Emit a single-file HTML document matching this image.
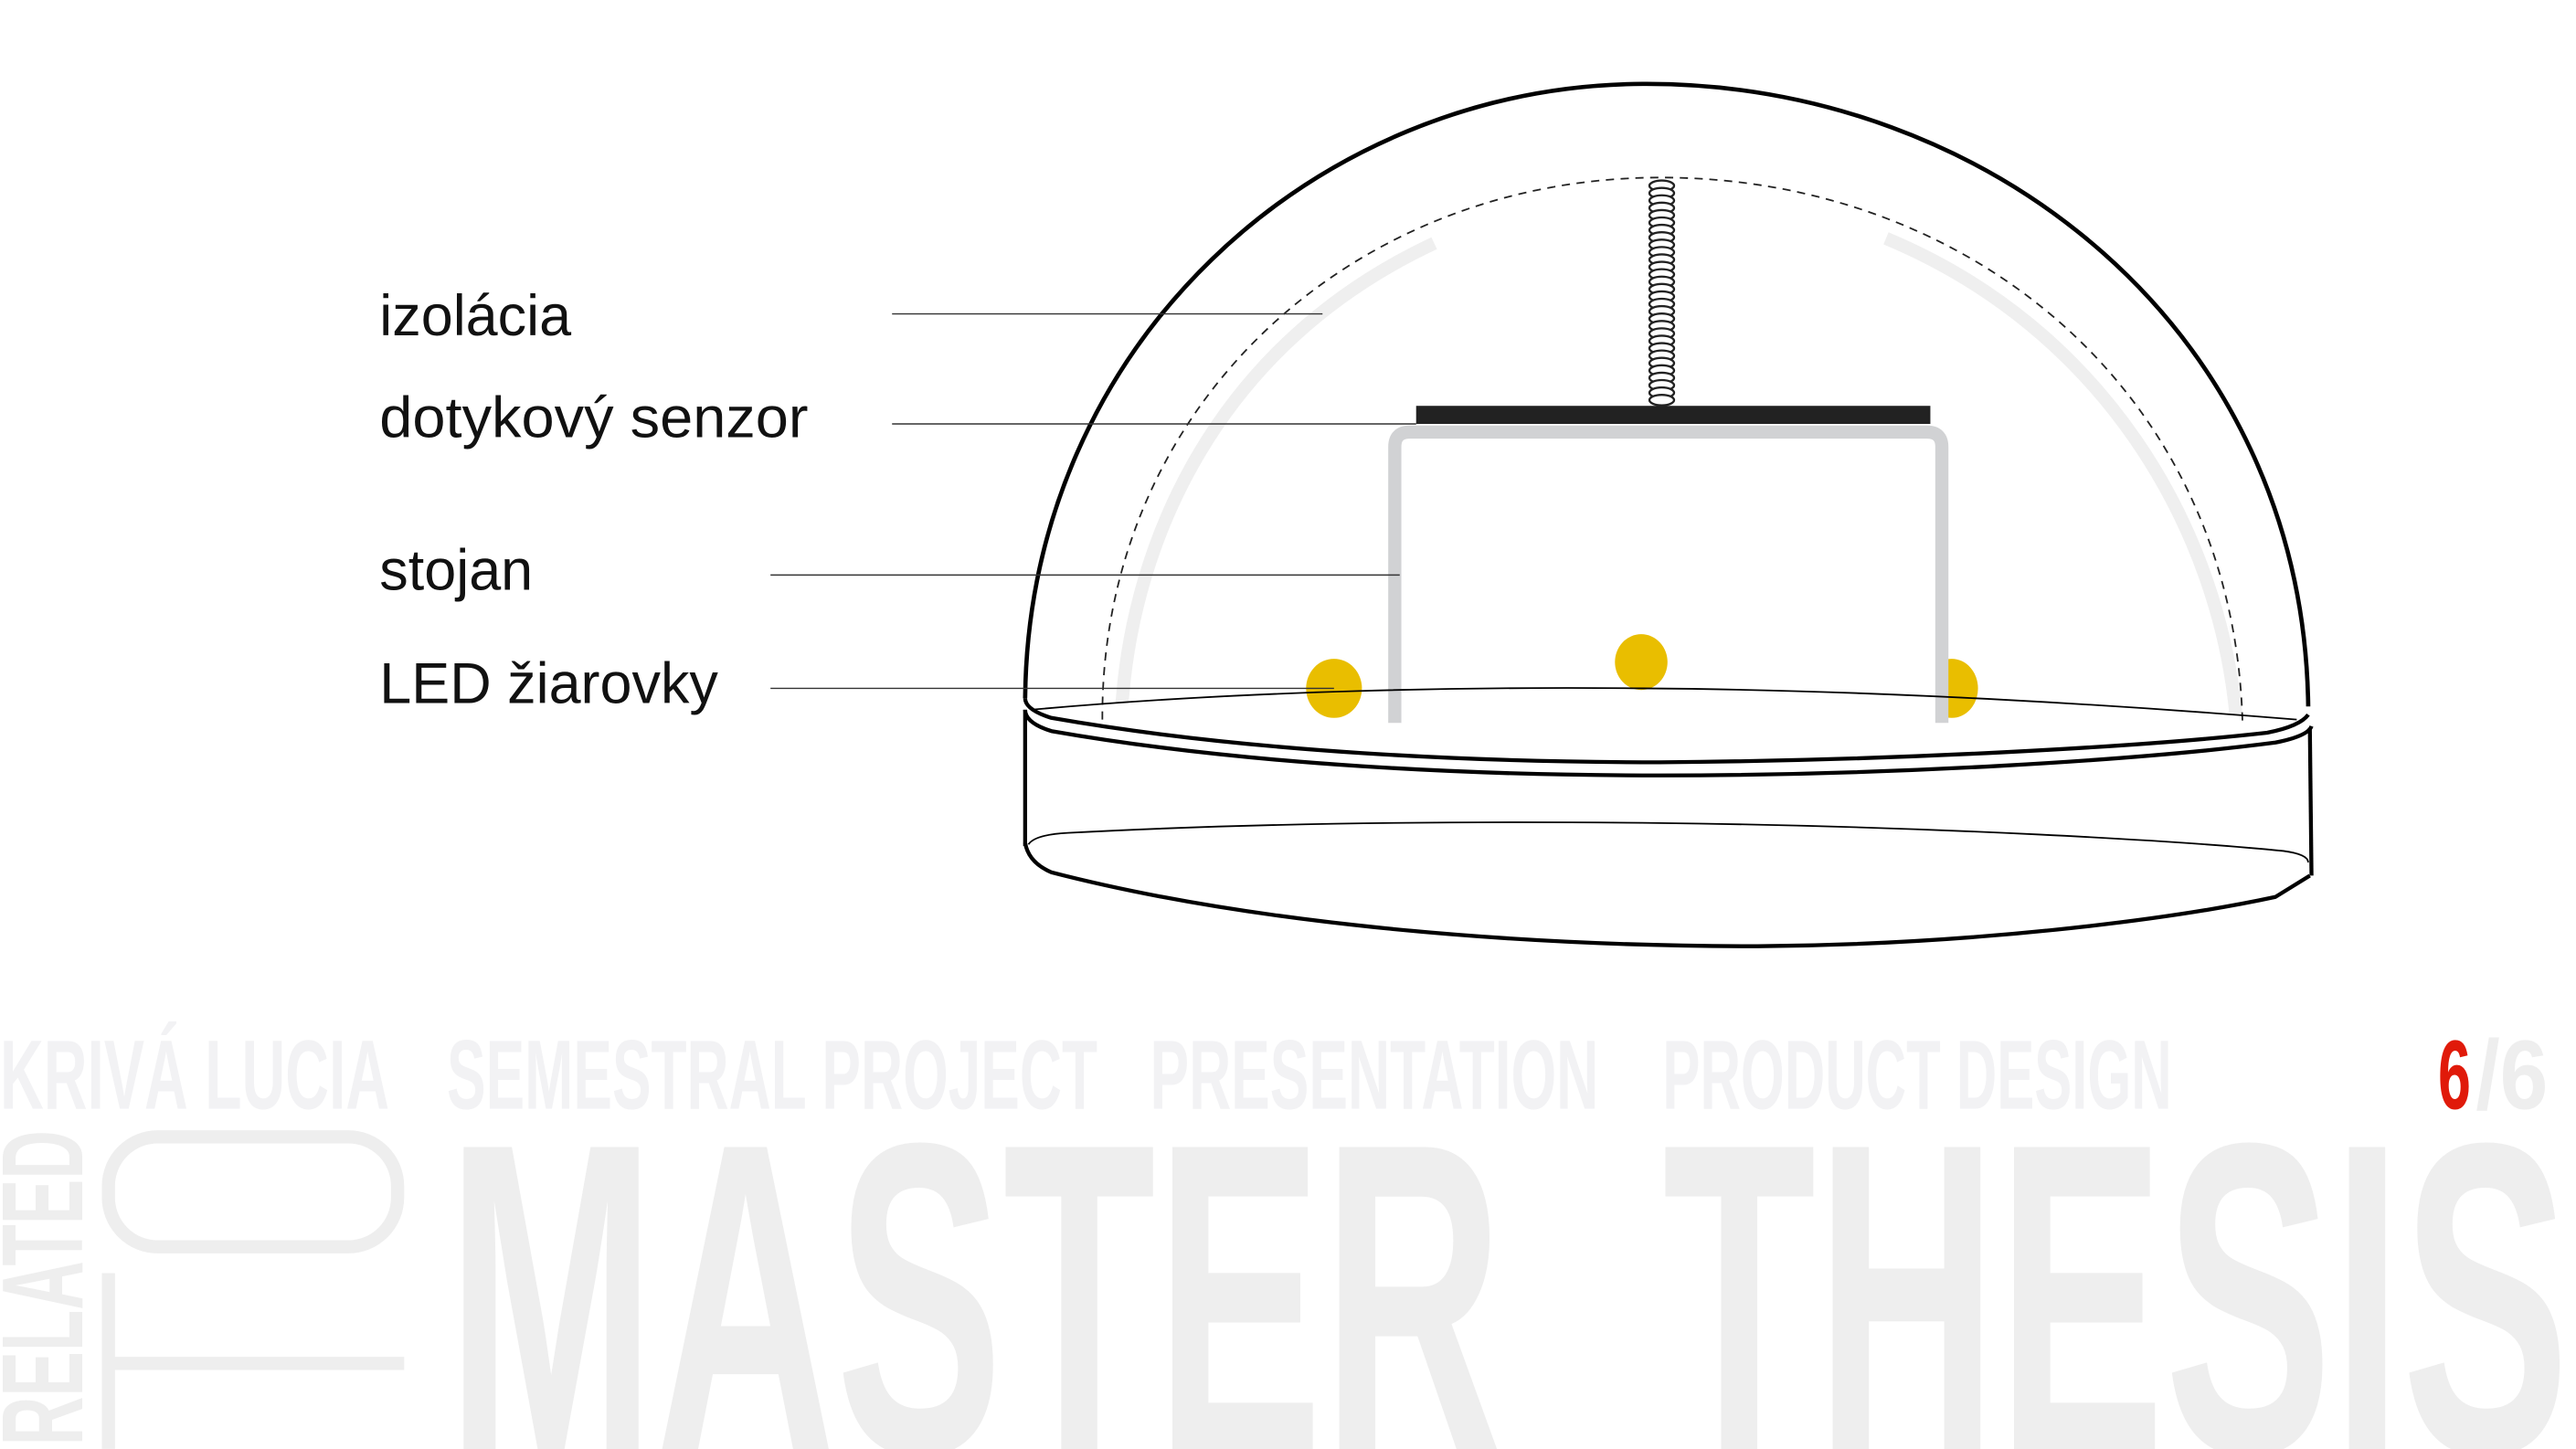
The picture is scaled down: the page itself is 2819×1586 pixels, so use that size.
<!DOCTYPE html>
<html><head><meta charset="utf-8"><style>
html,body{margin:0;padding:0;background:#fff;overflow:hidden;width:2819px;height:1586px;}
svg{display:block;}
</style></head><body>
<svg width="2819" height="1586" viewBox="0 0 1568 882" xmlns="http://www.w3.org/2000/svg" overflow="hidden">
<rect width="1568" height="882" fill="#fff"/>
<path d="M683,428 C690,330 740,210 873,148" fill="none" stroke="#efefef" stroke-width="8"/>
<path d="M1148,145 C1280,200 1350,320 1361,435" fill="none" stroke="#efefef" stroke-width="8"/>
<path d="M671,438 C670,250 820,108 1011,108 C1200,108 1360,240 1365,440" fill="none" stroke="#222" stroke-width="1" stroke-dasharray="5,4"/>
<path d="M624,425 C626,210 800,52 1000,51 C1210,50 1402,200 1405,430" fill="none" stroke="#000" stroke-width="2.6"/>
<ellipse cx="812" cy="419" rx="17" ry="18" fill="#e9be00"/>
<ellipse cx="999" cy="403" rx="16" ry="17" fill="#e9be00"/>
<clipPath id="cr"><rect x="1180" y="390" width="40" height="60"/></clipPath>
<ellipse cx="1188" cy="419" rx="16" ry="18" fill="#e9be00" clip-path="url(#cr)"/>
<path d="M849,440 L849,272 Q849,263 858,263 L1173,263 Q1182,263 1182,272 L1182,440" fill="none" stroke="#d1d2d4" stroke-width="8"/>
<rect x="862" y="247" width="313" height="11" fill="#222"/>
<g fill="#fff" stroke="#222" stroke-width="1.3">
<ellipse cx="1011.5" cy="113" rx="7.5" ry="3.2"/><ellipse cx="1011.5" cy="117.5" rx="7.5" ry="3.2"/><ellipse cx="1011.5" cy="122" rx="7.5" ry="3.2"/><ellipse cx="1011.5" cy="126.5" rx="7.5" ry="3.2"/><ellipse cx="1011.5" cy="131" rx="7.5" ry="3.2"/><ellipse cx="1011.5" cy="135.5" rx="7.5" ry="3.2"/><ellipse cx="1011.5" cy="140" rx="7.5" ry="3.2"/><ellipse cx="1011.5" cy="144.5" rx="7.5" ry="3.2"/><ellipse cx="1011.5" cy="149" rx="7.5" ry="3.2"/><ellipse cx="1011.5" cy="153.5" rx="7.5" ry="3.2"/><ellipse cx="1011.5" cy="158" rx="7.5" ry="3.2"/><ellipse cx="1011.5" cy="162.5" rx="7.5" ry="3.2"/><ellipse cx="1011.5" cy="167" rx="7.5" ry="3.2"/><ellipse cx="1011.5" cy="171.5" rx="7.5" ry="3.2"/><ellipse cx="1011.5" cy="176" rx="7.5" ry="3.2"/><ellipse cx="1011.5" cy="180.5" rx="7.5" ry="3.2"/><ellipse cx="1011.5" cy="185" rx="7.5" ry="3.2"/><ellipse cx="1011.5" cy="189.5" rx="7.5" ry="3.2"/><ellipse cx="1011.5" cy="194" rx="7.5" ry="3.2"/><ellipse cx="1011.5" cy="198.5" rx="7.5" ry="3.2"/><ellipse cx="1011.5" cy="203" rx="7.5" ry="3.2"/><ellipse cx="1011.5" cy="207.5" rx="7.5" ry="3.2"/><ellipse cx="1011.5" cy="212" rx="7.5" ry="3.2"/><ellipse cx="1011.5" cy="216.5" rx="7.5" ry="3.2"/><ellipse cx="1011.5" cy="221" rx="7.5" ry="3.2"/><ellipse cx="1011.5" cy="225.5" rx="7.5" ry="3.2"/><ellipse cx="1011.5" cy="230" rx="7.5" ry="3.2"/><ellipse cx="1011.5" cy="234.5" rx="7.5" ry="3.2"/><ellipse cx="1011.5" cy="239" rx="7.5" ry="3.2"/><ellipse cx="1011.5" cy="243.5" rx="7.5" ry="3.2"/>
</g>
<path d="M628,432 C760,420 900,418 1000,419 C1150,420 1300,430 1398,438" fill="none" stroke="#000" stroke-width="1"/>
<path d="M624,425 Q624,432 640,437 C760,458 900,464 1010,464 C1150,463 1300,455 1380,446 Q1400,442 1405,435" fill="none" stroke="#000" stroke-width="2.4"/>
<path d="M624,432 Q624,440 640,445 C760,466 900,472 1010,472 C1150,472 1300,463 1385,452 Q1405,448 1407,442" fill="none" stroke="#000" stroke-width="2.4"/>
<line x1="624" y1="432" x2="624" y2="515" stroke="#000" stroke-width="2.4"/>
<line x1="1406" y1="443" x2="1407" y2="533" stroke="#000" stroke-width="2.4"/>
<path d="M624,513 Q626,525 640,531 C760,562 920,576 1070,576 C1200,575 1320,560 1385,546 L1406,533" fill="none" stroke="#000" stroke-width="2.4"/>
<path d="M626,514 Q630,508 650,507 C780,500 920,500 1010,501 C1180,503 1330,512 1390,518 Q1405,520 1405,525" fill="none" stroke="#000" stroke-width="1"/>
<g stroke="#333" stroke-width="0.8">
<line x1="543" y1="191" x2="805" y2="191"/>
<line x1="543" y1="258" x2="862" y2="258"/>
<line x1="469" y1="350" x2="852" y2="350"/>
<line x1="469" y1="419" x2="812" y2="419"/>
</g>
<g font-family="Liberation Sans, sans-serif" font-size="35" fill="#111">
<text x="231" y="204">izolácia</text>
<text x="231" y="266" textLength="261" lengthAdjust="spacingAndGlyphs">dotykový senzor</text>
<text x="231" y="359">stojan</text>
<text x="231" y="428">LED žiarovky</text>
</g>
<g font-family="Liberation Sans, sans-serif" font-weight="bold" font-size="60" fill="#f2f2f4">
<text x="0" y="675" textLength="237" lengthAdjust="spacingAndGlyphs">KRIVÁ LUCIA</text>
<text x="272" y="675" textLength="396" lengthAdjust="spacingAndGlyphs">SEMESTRAL PROJECT</text>
<text x="700" y="675" textLength="273" lengthAdjust="spacingAndGlyphs">PRESENTATION</text>
<text x="1012" y="675" textLength="310" lengthAdjust="spacingAndGlyphs">PRODUCT DESIGN</text>
<text x="1484" y="675" textLength="20" lengthAdjust="spacingAndGlyphs" fill="#e01a0a">6</text>
<text x="1507" y="675" textLength="44" lengthAdjust="spacingAndGlyphs" fill="#eeeeee">/6</text>
</g>
<g font-family="Liberation Sans, sans-serif" font-weight="bold" font-size="270" fill="#eeeeee">
<text x="272" y="884" textLength="643" lengthAdjust="spacingAndGlyphs">MASTER</text>
<text x="1012" y="884" textLength="552" lengthAdjust="spacingAndGlyphs">THESIS</text>
</g>
<text transform="translate(50,880) rotate(-90)" font-family="Liberation Sans, sans-serif" font-weight="bold" font-size="70" fill="#eeeeee" textLength="192" lengthAdjust="spacingAndGlyphs">RELATED</text>
<g fill="none" stroke="#eeeeee" stroke-width="8">
<rect x="66" y="692" width="176" height="67" rx="30"/>
<line x1="66" y1="775" x2="66" y2="882"/>
<line x1="66" y1="830" x2="246" y2="830"/>
</g>
</svg>
</body></html>
